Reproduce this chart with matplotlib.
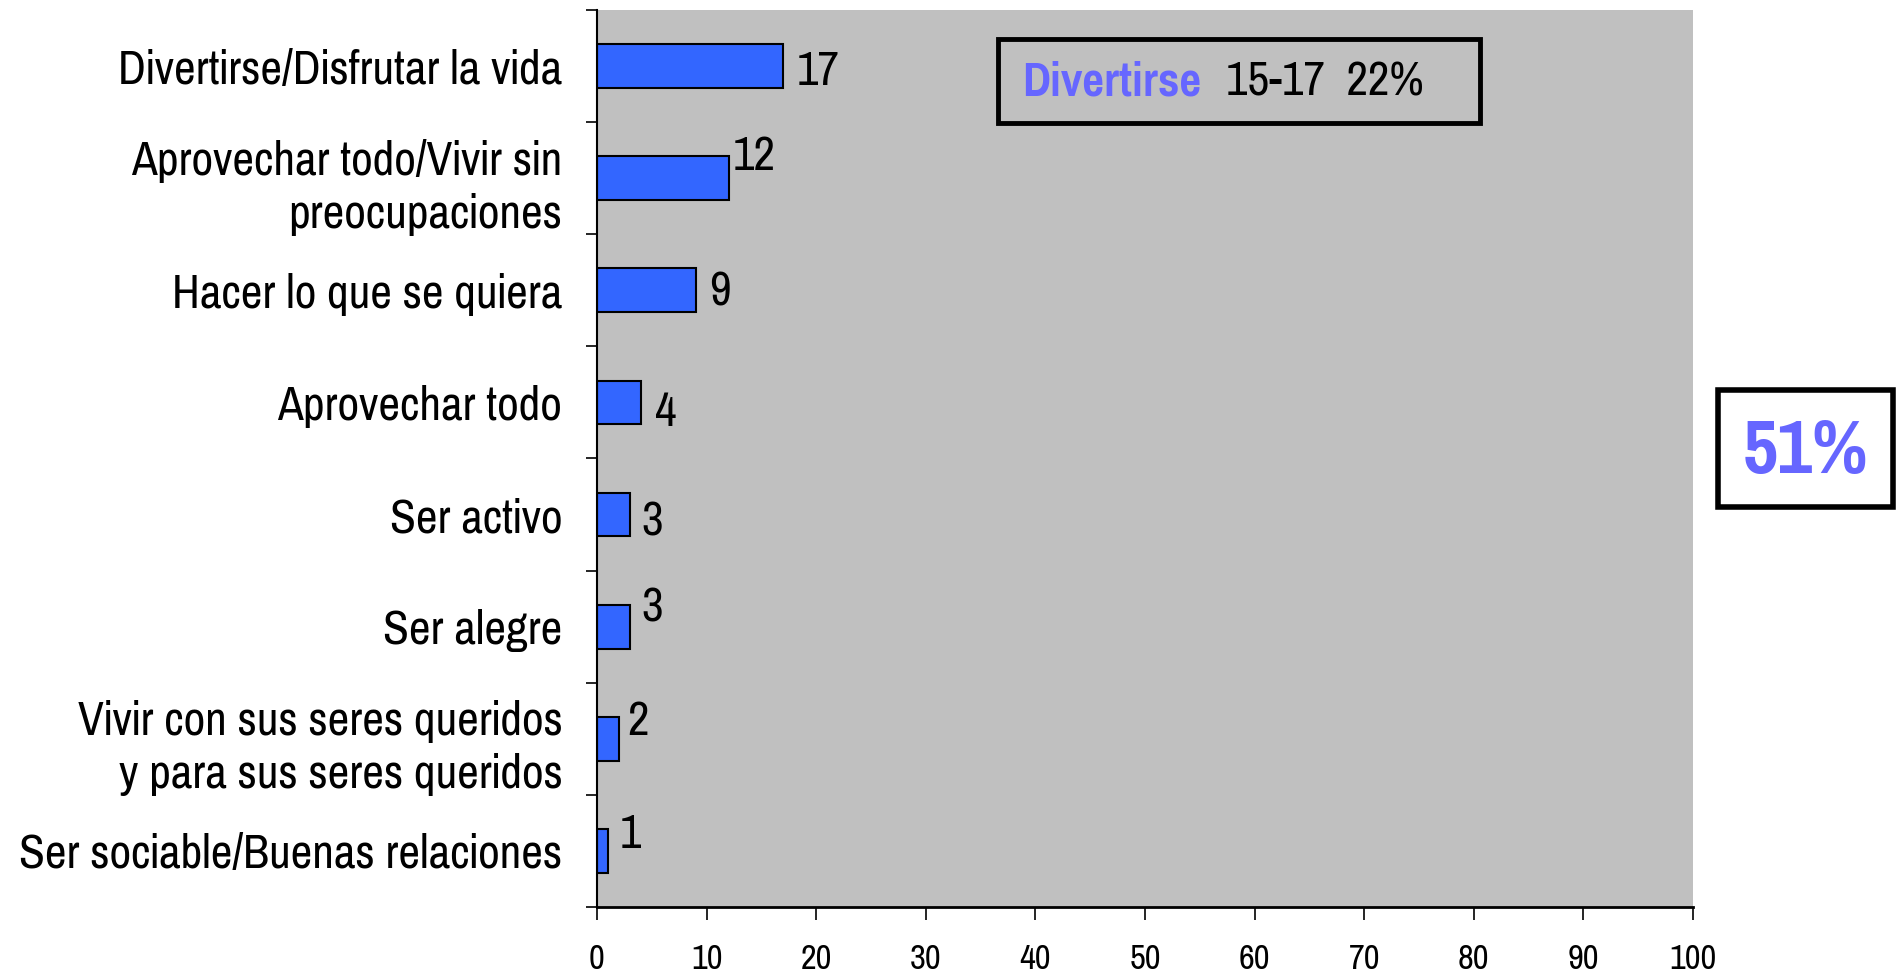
import numpy as np
import matplotlib.pyplot as plt
from matplotlib.patches import Rectangle

# datos del grafico
categorias = ["Divertirse/Disfrutar la vida",
              "Aprovechar todo/Vivir sin\npreocupaciones",
              "Hacer lo que se quiera",
              "Aprovechar todo",
              "Ser activo",
              "Ser alegre",
              "Vivir con sus seres queridos\ny para sus seres queridos",
              "Ser sociable/Buenas relaciones"]
valores = [17, 12, 9, 4, 3, 3, 2, 1]
xticks = [0, 10, 20, 30, 40, 50, 60, 70, 80, 90, 100]

# desplazamiento de las etiquetas (px, como en el original)
lbl_dx = [13, 4, 13, 14, 11, 11, 8, 12]
lbl_dy = [5, -22, 2, 10, 7, -19, -17, -16]

plt.rcParams['font.family'] = ['Pragati Narrow', 'DejaVu Sans']

fig = plt.figure(figsize=(19.02, 9.72), dpi=100)
ax = fig.add_axes([597/1902, 65/972, (1693-597)/1902, (962-65)/972])
ax.set_facecolor('#C0C0C0')

y = np.arange(len(categorias))
ax.barh(y, valores, height=0.39, color='#3366FF', edgecolor='black', linewidth=1.5)

for i, v in enumerate(valores):
    ax.annotate(str(v), xy=(v, i), xytext=(lbl_dx[i]*0.72, -lbl_dy[i]*0.72),
                textcoords='offset points', ha='left', va='center', fontsize=37)

ax.set_xlim(0, 100)
ax.set_ylim(len(categorias) - 0.5, -0.5)
ax.set_xticks(xticks)
ax.set_xticklabels([str(t) for t in xticks], fontsize=27)
ax.set_yticks(y)
ax.set_yticklabels(categorias, fontsize=37, linespacing=1.3)
ax.set_yticks(np.arange(len(categorias) + 1) - 0.5, minor=True)
ax.tick_params(axis='y', which='major', length=0, pad=25)
ax.tick_params(axis='y', which='minor', length=8, width=1.2, direction='out')
ax.tick_params(axis='x', length=9, width=1.2, direction='out', pad=17)

for s in ['top', 'right']:
    ax.spines[s].set_visible(False)
ax.spines['left'].set_linewidth(1.5)
ax.spines['bottom'].set_linewidth(2)

# recuadro Divertirse
fig.patches.append(Rectangle((998/1902, 1 - 123/972), 482/1902, 84/972,
                             transform=fig.transFigure, fill=False,
                             edgecolor='black', linewidth=3.5))
fig.text(1022/1902, 1 - 82/972, "Divertirse", color='#6666FF', fontsize=37,
         fontweight='bold', va='center', ha='left')
fig.text(1226/1902, 1 - 82/972, "15-17  22%", color='black', fontsize=37,
         va='center', ha='left')

# recuadro 51%
fig.patches.append(Rectangle((1718/1902, 1 - 507/972), 175/1902, 117/972,
                             transform=fig.transFigure, facecolor='white',
                             edgecolor='black', linewidth=4))
fig.text(1806/1902, 1 - 452/972, "51%", color='#6666FF', fontsize=60,
         fontweight='bold', va='center', ha='center')

fig.savefig('out.png', dpi=100)
